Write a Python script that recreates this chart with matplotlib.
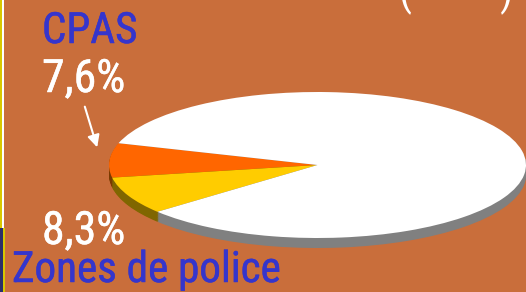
import matplotlib
matplotlib.use("Agg")
import matplotlib.pyplot as plt
from matplotlib.patches import Rectangle
from matplotlib import font_manager
import matplotlib.patheffects as pe

# ---- data ----
categories = ["CPAS", "Zones de police", "Autres"]
shares = [7.6, 8.3, 84.1]
labels = ["7,6%", "8,3%"]
top_colors = ["#FF6600", "#FFCC00", "#FFFFFF"]
side_colors = ["#7A3A00", "#806600", "#808080"]

W, H = 526, 292
BG = "#C96E3B"
BLUE = "#3535CC"

names = {f.name for f in font_manager.fontManager.ttflist}
cands = [n for n in ["Liberation Sans Narrow", "Roboto Condensed", "Open Sans Condensed",
                     "Noto Sans Condensed", "DejaVu Sans"] if n in names]
FONT = cands[0] if cands else "DejaVu Sans"
STRETCH = "normal" if FONT != "DejaVu Sans" else "condensed"

fig = plt.figure(figsize=(W / 100, H / 100), dpi=100, facecolor=BG)

bg = fig.add_axes([0, 0, 1, 1])
bg.set_xlim(0, W)
bg.set_ylim(H, 0)
bg.set_facecolor(BG)
bg.axis("off")

bg.add_patch(Rectangle((0, 0), 2, 228, color="#D8C800", lw=0))
bg.add_patch(Rectangle((2, 0), 1.5, 228, color="#FFFFFF", lw=0))
bg.add_patch(Rectangle((0, 228), 3, 64, color="#2A2F6A", lw=0))
bg.add_patch(Rectangle((3, 228), 1.5, 64, color="#D8C800", lw=0))


def label(x, y, s, color, size):
    bg.text(x, y, s, color=color, fontsize=size, family=FONT, fontstretch=STRETCH,
            va="baseline", ha="left",
            path_effects=[pe.withStroke(linewidth=0.35, foreground=color)])


label(42, 43, categories[0], BLUE, 31)
label(42, 92, labels[0], "white", 33)
label(42, 244, labels[1], "white", 33)
label(12, 282, categories[1], BLUE, 31)
bg.text(398, 15, "(", color="white", fontsize=30, family=FONT, va="bottom", ha="left")
bg.text(500, 15, ")", color="white", fontsize=30, family=FONT, va="bottom", ha="left")

bg.annotate("", xy=(98, 150), xytext=(84, 104),
            arrowprops=dict(arrowstyle="-|>", color="white", lw=1.5, mutation_scale=18))

x0, x1 = 109, 526
y_top, y_bot, depth = 92, 238, 10
b = (y_bot - y_top) / 2
d = depth / b
ax = fig.add_axes([x0 / W, 1 - (y_bot + depth) / H, (x1 - x0) / W, (y_bot + depth - y_top) / H])
ax.axis("off")
ax.patch.set_alpha(0)

start = 162.6
n_layers = 14
for i in range(n_layers, 0, -1):
    off = d * i / n_layers
    ax.pie(shares, colors=side_colors, startangle=start, counterclock=True,
           center=(0, -off), radius=1, wedgeprops=dict(linewidth=0, antialiased=True))
ax.pie(shares, colors=top_colors, startangle=start, counterclock=True,
       center=(0, 0), radius=1, wedgeprops=dict(linewidth=0))
ax.set_aspect("auto")
ax.set_xlim(-1, 1)
ax.set_ylim(-1 - d, 1)

fig.savefig("out.png", dpi=100, facecolor=BG)
